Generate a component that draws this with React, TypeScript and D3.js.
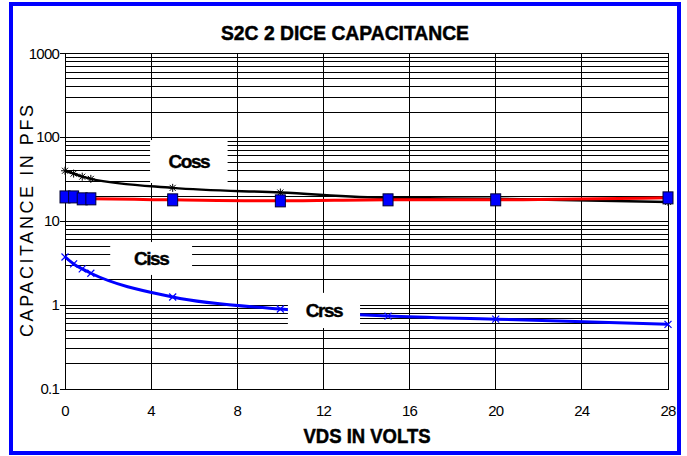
import * as d3 from 'd3';

// VDS in volts
const vds = [0, 0.4, 0.8, 1.2, 5, 10, 15, 20, 28];
// capacitance in pF
const coss = [40, 37, 34, 32, 25, 22, 19, 18.5, 17];
const ciss = [19.5, 19.5, 18.5, 18.5, 18, 17.5, 18, 18, 19];
const crss = [3.75, 3.1, 2.7, 2.4, 1.25, 0.9, 0.74, 0.68, 0.59];

const xTicks = [0, 4, 8, 12, 16, 20, 24, 28];
const yTicks = [0.1, 1, 10, 100, 1000];
const yTickLabels = ['0.1', '1', '10', '100', '1000'];

// text boxes that sit on the plot, in data coords: [label, x0, x1, yTop, yBottom]
const labels: [string, number, number, number, number][] = [
  ['Coss', 3.95, 7.55, 93, 28.6],
  ['Ciss', 2.1, 5.9, 5.65, 2.29],
  ['Crss', 10.35, 13.7, 1.4, 0.533],
];

const W = 687;
const H = 456;
const M = { left: 65, right: 668, top: 53.5, bottom: 389 };
const FONT = '"Liberation Sans", Arial, sans-serif';

export default function App() {
  const x = d3.scaleLinear().domain([0, 28]).range([M.left, M.right]);
  const y = d3.scaleLog().domain([0.1, 1000]).range([M.bottom, M.top]);

  const minor: number[] = [];
  [0.1, 1, 10, 100].forEach((d) => {
    for (let k = 2; k <= 9; k++) minor.push(d * k);
  });

  const line = d3
    .line<number>()
    .x((_, i) => x(vds[i]))
    .y((v) => y(v))
    .curve(d3.curveMonotoneX);

  const star = (cx: number, cy: number, r: number, key: string) => (
    <g key={key} stroke="#000" strokeWidth={1}>
      <line x1={cx - r} y1={cy} x2={cx + r} y2={cy} />
      <line x1={cx} y1={cy - r} x2={cx} y2={cy + r} />
      <line x1={cx - r * 0.75} y1={cy - r * 0.75} x2={cx + r * 0.75} y2={cy + r * 0.75} />
      <line x1={cx - r * 0.75} y1={cy + r * 0.75} x2={cx + r * 0.75} y2={cy - r * 0.75} />
    </g>
  );

  const cross = (cx: number, cy: number, r: number, key: string) => (
    <g key={key} stroke="#0000ff" strokeWidth={1.2}>
      <line x1={cx - r} y1={cy - r} x2={cx + r} y2={cy + r} />
      <line x1={cx - r} y1={cy + r} x2={cx + r} y2={cy - r} />
    </g>
  );

  return (
    <svg width={W} height={H} style={{ position: 'absolute', left: 0, top: 0 }}>
      <rect x={0} y={0} width={W} height={H} fill="#fff" />
      <rect x={11} y={4} width={668} height={449} fill="#fff" stroke="#0000ff" strokeWidth={4} />

      <text x={345} y={40} textAnchor="middle" fontFamily={FONT} fontWeight="bold" fontSize={21}
        stroke="#000" strokeWidth={0.5}
        textLength={248} lengthAdjust="spacingAndGlyphs">
        S2C 2 DICE CAPACITANCE
      </text>

      {/* grid */}
      <g shapeRendering="crispEdges" stroke="#000" strokeWidth={1}>
        {minor.map((d) => (
          <line key={'m' + d} x1={M.left} x2={M.right} y1={y(d)} y2={y(d)} />
        ))}
        {yTicks.map((d) => (
          <line key={'y' + d} x1={M.left - 5} x2={M.right} y1={y(d)} y2={y(d)} />
        ))}
        {xTicks.map((d) => (
          <line key={'x' + d} x1={x(d)} x2={x(d)} y1={M.top} y2={M.bottom} />
        ))}
        <rect x={M.left} y={M.top} width={M.right - M.left} height={M.bottom - M.top} fill="none" />
      </g>

      {/* series */}
      <path d={line(coss) || ''} fill="none" stroke="#000" strokeWidth={2.5} />
      {coss.map((v, i) => star(x(vds[i]), y(v), 4, 'c' + i))}

      <path d={line(ciss) || ''} fill="none" stroke="#ff0000" strokeWidth={3} />
      {ciss.map((v, i) => (
        <rect key={'s' + i} x={x(vds[i]) - 5} y={y(v) - 6} width={10} height={12}
          fill="#0000ff" stroke="#000033" strokeWidth={1} />
      ))}

      <path d={line(crss) || ''} fill="none" stroke="#0000ff" strokeWidth={3} />
      {crss.map((v, i) => cross(x(vds[i]), y(v), 3.5, 'r' + i))}

      {/* label boxes */}
      {labels.map(([t, x0, x1, yt, yb]) => (
        <g key={t}>
          <rect x={x(x0)} y={y(yt)} width={x(x1) - x(x0)} height={y(yb) - y(yt)} fill="#fff" />
          <text x={(x(x0) + x(x1)) / 2} y={(y(yt) + y(yb)) / 2 + 7} textAnchor="middle"
            fontFamily={FONT} fontWeight="bold" fontSize={19} letterSpacing={-1.5}
            stroke="#000" strokeWidth={0.4}>
            {t}
          </text>
        </g>
      ))}

      {/* axes labels */}
      {yTicks.map((d, i) => (
        <text key={'yl' + d} x={59} y={y(d) + 5} textAnchor="end" fontFamily={FONT}
          fontSize={15} letterSpacing={-0.8}>
          {yTickLabels[i]}
        </text>
      ))}
      {xTicks.map((d) => (
        <text key={'xl' + d} x={x(d)} y={416} textAnchor="middle" fontFamily={FONT}
          fontSize={15} letterSpacing={-0.8}>
          {d}
        </text>
      ))}
      <text x={367} y={443} textAnchor="middle" fontFamily={FONT} fontWeight="bold" fontSize={20}
        stroke="#000" strokeWidth={0.5}
        textLength={127} lengthAdjust="spacingAndGlyphs">
        VDS IN VOLTS
      </text>
      <text transform="translate(33,221) rotate(-90)" textAnchor="middle" fontFamily={FONT}
        fontSize={18} textLength={232} lengthAdjust="spacing">
        CAPACITANCE IN PFS
      </text>
    </svg>
  );
}
